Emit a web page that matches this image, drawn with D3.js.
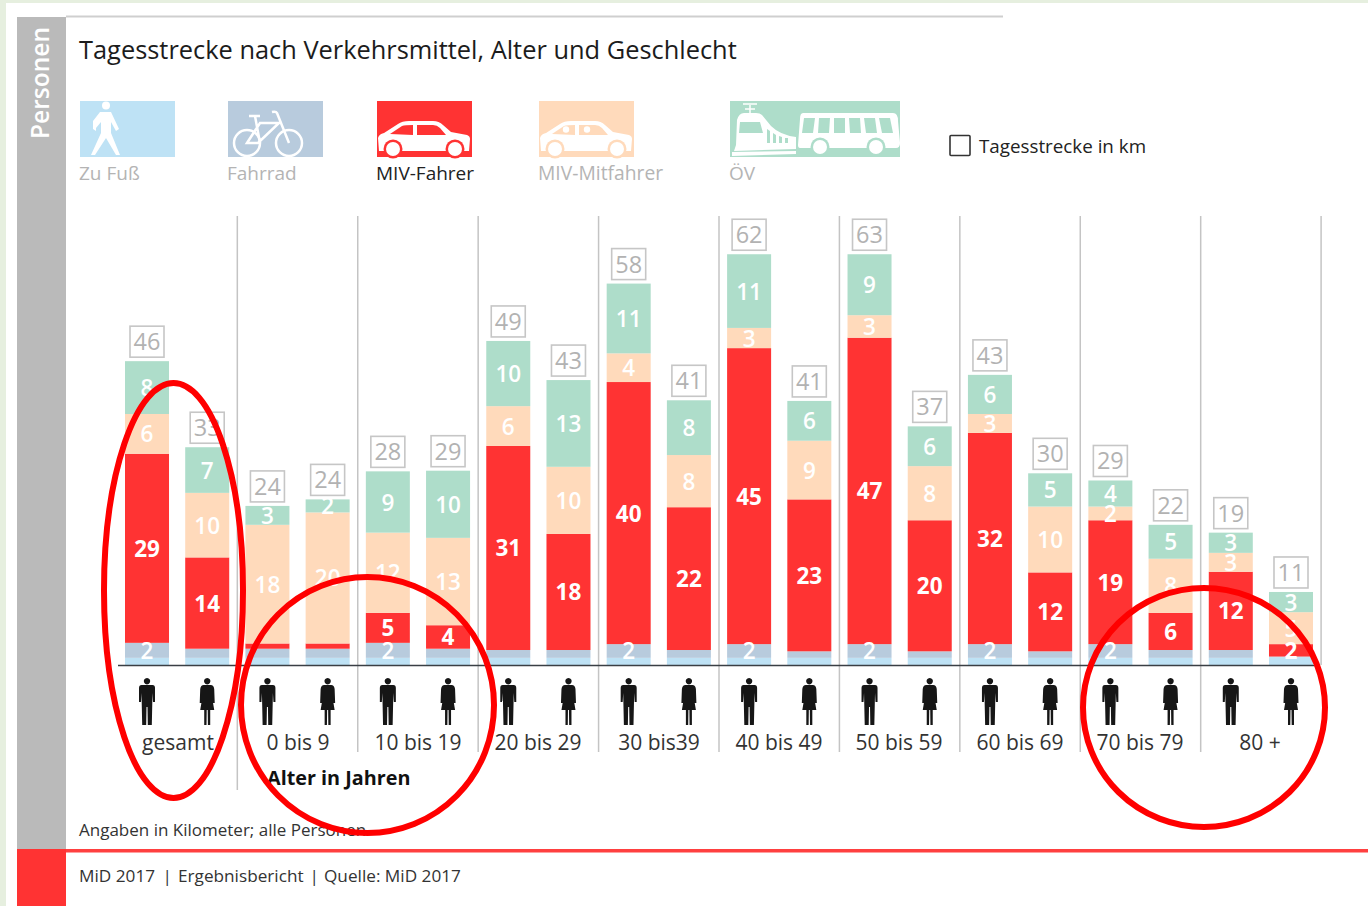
<!DOCTYPE html>
<html><head><meta charset="utf-8">
<script src="https://cdn.jsdelivr.net/npm/d3@7/dist/d3.min.js"></script>
<style>html,body{margin:0;padding:0;background:#fff}svg{display:block}text{font-family:"Open Sans",sans-serif}</style>
</head><body><svg id="c" width="1368" height="906"></svg>
<script>
const groups=["gesamt","0 bis 9","10 bis 19","20 bis 29","30 bis39","40 bis 49","50 bis 59","60 bis 69","70 bis 79","80 +"];
const bars=["g-m","g-w","0-m","0-w","10-m","10-w","20-m","20-w","30-m","30-w","40-m","40-w","50-m","50-w","60-m","60-w","70-m","70-w","80-m","80-w"];
const modes=["foot","bike","driver","passenger","transit"];
const modeNames=["Zu Fuß","Fahrrad","MIV-Fahrer","MIV-Mitfahrer","ÖV"];
const colors=["#bee2f5","#b8cbdd","#ff3333","#ffdabb","#aeddca"];
const foot=[1.1,1.1,1.1,1.1,1.1,1.1,1.1,1.1,1.1,1.1,1.1,1.1,1.1,1.1,1.1,1.1,1.1,1.1,1.1,1.2];
const bike=[2.3,1.4,1.4,1.4,2.3,1.4,1.2,1.2,2.1,1.2,2.1,1.0,2.1,1.0,2.1,1.0,2.1,1.2,1.2,0.1];
const driver=[29,14,0.8,0.8,4.6,3.6,31.3,17.8,40.2,21.9,45.4,23.3,47,20.1,32.4,12.1,19,5.7,12,1.9];
const passenger=[6.1,9.9,18.2,20.1,12.3,13.4,6.1,10.3,4.4,8,3.1,9,3.45,8.3,2.9,10.1,2.1,8.3,2.9,4.9];
const transit=[8.1,7,2.9,2,9.4,10.3,10,13.3,10.7,8.4,11.3,6.1,9.35,6.1,6,5.1,4,5.2,3.1,3.1];
const totals=[46,33,24,24,28,29,49,43,58,41,62,41,63,37,43,30,29,22,19,11];
const series={foot,bike,driver,passenger,transit};
const table=bars.map((b,i)=>{const r={bar:b,total:totals[i]};modes.forEach(m=>r[m]=series[m][i]);return r;});

const svg=d3.select("#c");
const W=1368,H=906;
const baseY=665,KM=6.52;
const x=d3.scaleBand().domain(bars).range([116.9,1321.1]).paddingInner(16.2/60.2).paddingOuter(8.1/60.2);
const y=d3.scaleLinear().domain([0,70]).range([baseY,baseY-70*KM]);
const col=d3.scaleOrdinal(modes,colors);
const stack=d3.stack().keys(modes)(table);

// page frame
svg.append("rect").attr("width",W).attr("height",3).attr("fill","#e6efdf");
svg.append("rect").attr("width",6).attr("height",H).attr("fill","#e6efdf");
svg.append("rect").attr("x",17).attr("y",17).attr("width",49).attr("height",832).attr("fill","#bababa");
svg.append("rect").attr("x",66).attr("y",15.5).attr("width",937).attr("height",2).attr("fill","#cfcfcf");
svg.append("rect").attr("x",17).attr("y",849).attr("width",49).attr("height",57).attr("fill","#ff3333");
svg.append("rect").attr("x",66).attr("y",849).attr("width",W-66).attr("height",3.5).attr("fill","#ff4040");
svg.append("text").attr("transform","translate(49,83) rotate(-90)").attr("text-anchor","middle").attr("fill","#fff").attr("font-size",24.5).attr("font-weight",600).text("Personen");

svg.append("text").attr("x",79).attr("y",59).attr("font-size",25.4).attr("fill","#1c1c1c").text("Tagesstrecke nach Verkehrsmittel, Alter und Geschlecht");

// legend
const legendX=[80,228,377,539,730],legendW=[95,95,95,95,170];
const leg=svg.append("g");
modes.forEach((m,i)=>{
  const g=leg.append("g").attr("transform",`translate(${legendX[i]},101)`);
  g.append("rect").attr("width",legendW[i]).attr("height",56).attr("fill",colors[i]);
  drawIcon(g,m,colors[i]);
  leg.append("text").attr("x",legendX[i]-1).attr("y",180).attr("font-size",i==3?19.3:19)
    .attr("fill",i==2?"#222":"#b4b4b4").text(modeNames[i]);
});
function wheel(g,cx,cy,bg){
  g.append("circle").attr("cx",cx).attr("cy",cy).attr("r",9.5).attr("fill",bg);
  g.append("circle").attr("cx",cx).attr("cy",cy).attr("r",7).attr("fill","#fff");
}
function car(g,bg,faces){
  g.append("path").attr("fill","#fff").attr("d","M2,50 L1,37 Q2,33 7,32 L21,23 Q25,20 32,20 L56,20 Q62,20 66,24 L74,31 L90,34 Q93,35 93,38 L92,50 Z");
  g.append("path").attr("fill",bg).attr("d","M13,33 L25,25 Q28,24 36,24 L36,34 Z M40,24 L56,24 Q60,24 63,27 L69,34 L40,34 Z");
  if(faces){[27,48].forEach(c=>g.append("circle").attr("cx",c).attr("cy",28.5).attr("r",3.2).attr("fill","#fff"));}
  wheel(g,16,48,bg);wheel(g,78,48,bg);
}
function drawIcon(g,m,bg){
  if(m=="driver")car(g,bg,false);
  if(m=="passenger")car(g,bg,true);
  if(m=="foot"){
    g.append("circle").attr("cx",26).attr("cy",4.5).attr("r",4).attr("fill","#fff");
    g.append("path").attr("fill","#fff").attr("d","M20,11 L31,11 L39,28 L36,30 L31,21 L31,32 L40,54 L36,54 L26,37 L15,54 L11,54 L21,32 L21,21 L16,27 L16,30 L13,28 L13,20 Z");
  }
  if(m=="bike"){
    const f=g.append("g").attr("fill","none").attr("stroke","#fff").attr("stroke-width",2.5);
    f.append("circle").attr("cx",19).attr("cy",42).attr("r",13);
    f.append("circle").attr("cx",61).attr("cy",42).attr("r",13);
    f.append("path").attr("d","M19,42 L32,22 L51,22 L30,42 Z M32,42 L27,15 M21,15 L32,15 M61,42 L49,12 Q48,10 44,11");
  }
  if(m=="transit"){
    g.append("path").attr("fill","#fff").attr("d","M7,19 L6,44 L4,50 L66,48 L66,36 Q50,34 41,25 L32,14 Q30,12 26,12 L14,12 Q9,12 7,19 Z");
    g.append("path").attr("fill",bg).attr("d","M10,21 L30,21 L33,32 L9,32 Z M37,28 L40,30 L40,42 L37,42 Z M43,32 L46,34 L46,42 L43,42 Z M49,35 L52,36 L52,42 L49,42 Z M55,37 L58,37 L58,42 L55,42 Z");
    g.append("path").attr("fill","none").attr("stroke","#fff").attr("stroke-width",1.5).attr("d","M20,12 L20,4 M13,3 L27,3 M15,8 L25,8");
    g.append("path").attr("fill","#fff").attr("d","M2,51 L66,50 L66,53 L2,55 Z");
    g.append("path").attr("fill","#fff").attr("d","M73,12 L163,12 Q168,12 168,20 L170,42 Q170,47 166,47 L70,47 Q68,47 68,44 L70,18 Q70,12 73,12 Z");
    g.append("path").attr("fill",bg).attr("d","M74,17 L85,17 L83,32 L72,32 Z M89,17 L100,17 L99,32 L88,32 Z M104,17 L115,17 L115,32 L104,32 Z M119,17 L130,17 L131,32 L120,32 Z M134,17 L145,17 L147,32 L136,32 Z M149,17 L160,17 L163,32 L152,32 Z");
    wheel(g,90,46,bg);wheel(g,146,46,bg);
  }
}
svg.append("rect").attr("x",950).attr("y",135.5).attr("width",20).attr("height",20).attr("fill","none").attr("stroke","#333").attr("stroke-width",1.6).attr("rx",1);
svg.append("text").attr("x",979).attr("y",153).attr("font-size",18.8).attr("fill","#222").text("Tagesstrecke in km");

// dividers
const dividerX=d3.range(1,11).map(i=>x.step()*2*i+116.9);
svg.append("g").selectAll("line").data(dividerX).join("line")
  .attr("x1",d=>d).attr("x2",d=>d).attr("y1",216).attr("y2",(d,i)=>i==0?790:(i==9?665:752))
  .attr("stroke","#c4c4c4").attr("stroke-width",1.5);

// bars
svg.append("g").selectAll("g").data(stack).join("g").attr("fill",d=>col(d.key))
  .selectAll("rect").data(d=>d).join("rect")
  .attr("x",d=>x(d.data.bar)).attr("width",x.bandwidth())
  .attr("y",d=>y(d[1])).attr("height",d=>y(d[0])-y(d[1]));

// baseline
svg.append("line").attr("x1",118).attr("x2",1320).attr("y1",baseY+.5).attr("y2",baseY+.5).attr("stroke","#3a3f44").attr("stroke-width",1.6);

// segment labels
svg.append("g").selectAll("g").data(stack).join("g").selectAll("text")
  .data(d=>d.map(p=>({p,key:d.key})).filter(o=>Math.round(o.p[1]-o.p[0])>=2)).join("text")
  .attr("x",o=>x(o.p.data.bar)+x.bandwidth()/2).attr("y",o=>(y(o.p[0])+y(o.p[1]))/2+8.5)
  .attr("text-anchor","middle").attr("font-size",22.5).attr("font-weight",o=>o.key=="driver"?700:600).attr("fill","#fff")
  .text(o=>Math.round(o.p[1]-o.p[0]));

// total boxes
const tg=svg.append("g").selectAll("g").data(table).join("g")
  .attr("transform",d=>`translate(${x(d.bar)+x.bandwidth()/2},${y(d3.sum(modes,m=>d[m]))})`);
tg.append("rect").attr("x",-17).attr("y",-35).attr("width",34).attr("height",31).attr("fill","#fff").attr("stroke","#c6c6c6").attr("stroke-width",1.6);
tg.append("text").attr("text-anchor","middle").attr("y",-11).attr("font-size",23.5).attr("fill","#b2b2b2").text(d=>d.total);

// people
const man="M0,0 a3.2,3.2 0 1 0 .01,0 Z M-5.5,7 L5.5,7 Q8,7 8,10 L8,24 L6,24 L5.5,15 L4.8,47 L.8,47 L.5,29 L-.5,29 L-.8,47 L-4.8,47 L-5.5,15 L-6,24 L-8,24 L-8,10 Q-8,7 -5.5,7 Z";
const woman="M0,0 a3.2,3.2 0 1 0 .01,0 Z M-3.5,7 L3.5,7 Q6.5,7 7,11 L7.5,25 L5.5,25 L4,14 L7,32 L3,32 L3,47 L.7,47 L.5,32 L-.5,32 L-.7,47 L-3,47 L-3,32 L-7,32 L-4,14 L-5.5,25 L-7.5,25 L-7,11 Q-6.5,7 -3.5,7 Z";
svg.append("g").selectAll("path").data(bars).join("path")
  .attr("transform",d=>`translate(${x(d)+x.bandwidth()/2},678)`)
  .attr("d",(d,i)=>i%2?woman:man).attr("fill","#161616");

// group labels
const groupLabelX=[178,298,418,538,659,779,899,1020,1140,1260];
svg.append("g").selectAll("text").data(groups).join("text")
  .attr("x",(d,i)=>groupLabelX[i]).attr("y",750).attr("text-anchor","middle").attr("font-size",21).attr("fill","#333").text(d=>d);
svg.append("text").attr("x",267).attr("y",785).attr("font-size",19.8).attr("font-weight",700).attr("fill","#111").text("Alter in Jahren");
svg.append("text").attr("x",79).attr("y",836).attr("font-size",17).attr("fill","#333").text("Angaben in Kilometer; alle Personen");
const footerParts=["MiD 2017","|","Ergebnisbericht","|","Quelle: MiD 2017"],footerX=[79,162.5,178,309.5,324];
svg.append("g").selectAll("text").data(footerParts).join("text")
  .attr("x",(d,i)=>footerX[i]).attr("y",882).attr("font-size",17.2).attr("fill","#333").text(d=>d);

// hand-drawn annotation ellipses
const rings=[[173.5,590.5,69.5,207.5],[367.5,705,126.5,128],[1204,707.5,121,119.5]];
svg.append("g").selectAll("ellipse").data(rings).join("ellipse")
  .attr("cx",d=>d[0]).attr("cy",d=>d[1]).attr("rx",d=>d[2]).attr("ry",d=>d[3])
  .attr("fill","none").attr("stroke","#ff0000").attr("stroke-width",6);
</script></body></html>
